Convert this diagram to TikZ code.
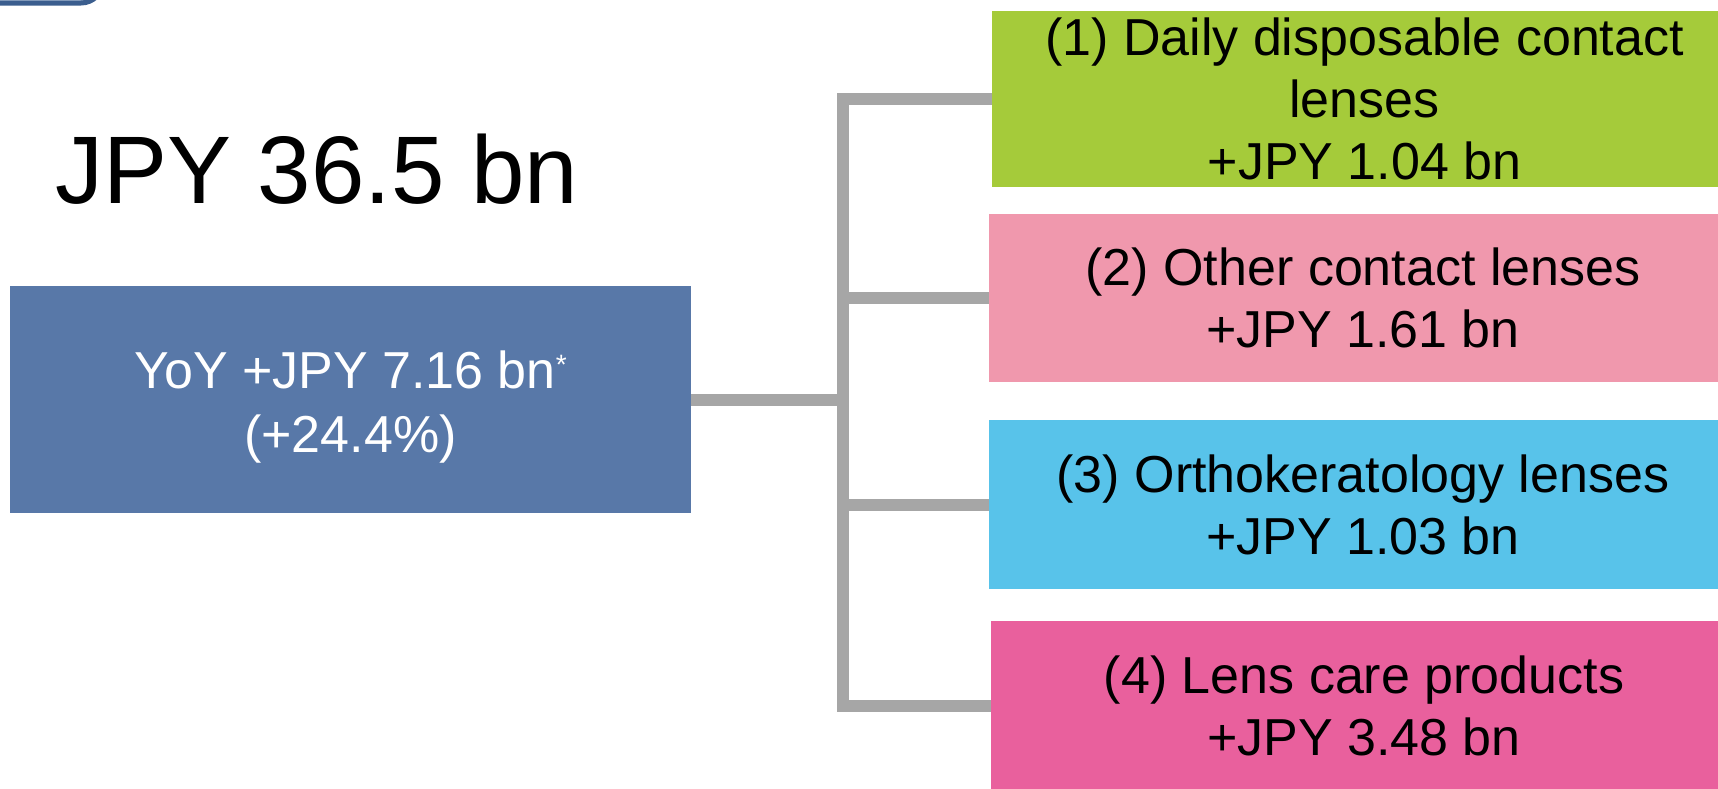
\documentclass[tikz,border=0pt]{standalone}
\usepackage{fontspec}
\setmainfont{Liberation Sans}
\definecolor{cgreen}{HTML}{A5CB3A}
\definecolor{cpinkl}{HTML}{F098AD}
\definecolor{ccyan}{HTML}{58C3EA}
\definecolor{cpink}{HTML}{E9609D}
\definecolor{cmain}{HTML}{5878A8}
\definecolor{cgray}{HTML}{A6A6A6}
\definecolor{cframe}{HTML}{3B5E8E}
\definecolor{cframefill}{HTML}{A9BBD3}
\tikzset{
  catbox/.style={rectangle, inner sep=0pt, align=center, text=black,
    font=\fontsize{52}{62}\selectfont},
  mainbox/.style={rectangle, inner sep=0pt, text=white, fill=cmain,
    font=\fontsize{52}{64}\selectfont, minimum width=681pt, minimum height=227pt},
  conn/.style={draw=cgray, line width=12pt, line join=miter}
}
\begin{document}
\begin{tikzpicture}[x=1pt,y=-1pt]
\useasboundingbox (0,0) rectangle (1718,788);
\clip (0,0) rectangle (1718,788);
% partial frame at top left
\draw[cframe, fill=cframefill, line width=5pt, rounded corners=22pt] (-40,-80) rectangle (103,3);
% title
\node[anchor=base west, inner sep=0pt, font=\fontsize{96}{110}\selectfont] (title) at (55,203) {JPY 36.5 bn};
% main box
\node[mainbox] (main) at (350.5,399.5) {\raisebox{-8pt}[\height][\depth]{\begin{tabular}{@{}c@{}}YoY +JPY 7.16 bn\raisebox{14pt}{\fontsize{28}{30}\selectfont *}\\(+24.4\%)\end{tabular}}};
% category boxes
\node[catbox, fill=cgreen, minimum width=745pt, minimum height=176pt] (b1) at (1364.5,99) {(1) Daily disposable contact\\lenses\\+JPY 1.04 bn};
\node[catbox, fill=cpinkl, minimum width=748pt, minimum height=168pt] (b2) at (1363,298) {(2) Other contact lenses\\+JPY 1.61 bn};
\node[catbox, fill=ccyan, minimum width=748pt, minimum height=169pt] (b3) at (1363,504.5) {(3) Orthokeratology lenses\\+JPY 1.03 bn};
\node[catbox, fill=cpink, minimum width=746pt, minimum height=170pt] (b4) at (1364,706) {(4) Lens care products\\+JPY 3.48 bn};
% connectors
\coordinate (busx) at (843,0);
\draw[conn] (b1.west) -- (b1.west -| busx) -- (b4.west -| busx) -- (b4.west);
\draw[conn] (b2.west) -- (b2.west -| busx);
\draw[conn] (b3.west) -- (b3.west -| busx);
\draw[conn] (main.east) -- (main.east -| busx);
\end{tikzpicture}
\end{document}
